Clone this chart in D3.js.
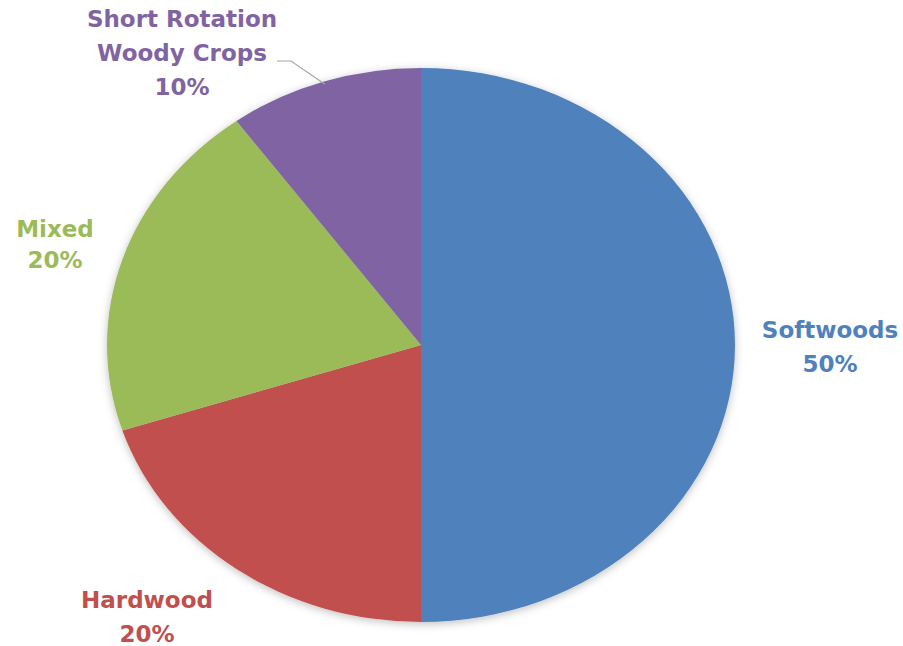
<!DOCTYPE html>
<html>
<head>
<meta charset="utf-8">
<script src="https://cdn.jsdelivr.net/npm/d3@7"></script>
<style>
  body { margin: 0; background: #fff; }
  svg { display: block; }
  .lbl { font-family: "DejaVu Sans", sans-serif; font-weight: 700; font-size: 23px; }
</style>
</head>
<body>
<svg id="chart"></svg>
<script>
// data
const categories = ["Softwoods", "Hardwood", "Mixed", "Short Rotation Woody Crops"];
const shares = [50, 20, 20, 10];
const colors = ["#4F81BD", "#C0504D", "#9BBB59", "#8064A2"];
const labelLines = [["Softwoods"], ["Hardwood"], ["Mixed"], ["Short Rotation", "Woody Crops"]];

const W = 903, H = 646;
const cx = 421, cy = 345, rx = 314, ry = 277;

const svg = d3.select("#chart").attr("width", W).attr("height", H);

// soft shadow like the office chart
const defs = svg.append("defs");
const f = defs.append("filter").attr("id", "shadow")
  .attr("x", "-10%").attr("y", "-10%").attr("width", "120%").attr("height", "120%");
f.append("feDropShadow").attr("dx", 0).attr("dy", 2).attr("stdDeviation", 4)
  .attr("flood-color", "#000").attr("flood-opacity", 0.25);

const data = categories.map((c, i) => ({ name: c, value: shares[i], color: colors[i], lines: labelLines[i] }));

const pie = d3.pie().value(d => d.value).sort(null);
const arcs = pie(data);
const arc = d3.arc().innerRadius(0).outerRadius(ry);

// pie drawn as circle then stretched horizontally into the ellipse
const g = svg.append("g")
  .attr("filter", "url(#shadow)")
  .append("g")
  .attr("transform", `translate(${cx},${cy}) scale(${rx / ry},1)`);

g.selectAll("path")
  .data(arcs)
  .join("path")
  .attr("d", arc)
  .attr("fill", d => d.data.color);

// label anchor points (center x, first baseline y)
const labelPos = [
  { x: 830, y: 338, step: 34 },
  { x: 147, y: 608, step: 34 },
  { x: 55, y: 237, step: 31 },
  { x: 182, y: 27, step: 34 }
];

arcs.forEach((a, i) => {
  const p = labelPos[i];
  const t = svg.append("text")
    .attr("class", "lbl")
    .attr("text-anchor", "middle")
    .attr("fill", a.data.color);
  const lines = a.data.lines.concat([a.data.value + "%"]);
  lines.forEach((s, j) => {
    t.append("tspan").attr("x", p.x).attr("y", p.y + j * p.step).text(s);
  });
});

// leader line for the small slice
const small = arcs[3];
const mid = (small.startAngle + small.endAngle) / 2;
const ex = cx + rx * Math.sin(mid) * 0.99, ey = cy - ry * Math.cos(mid) * 0.99;
svg.append("polyline")
  .attr("points", `277,61 291,61 ${ex},${ey}`)
  .attr("fill", "none")
  .attr("stroke", "#A6A6A6")
  .attr("stroke-width", 1.2);
</script>
</body>
</html>
